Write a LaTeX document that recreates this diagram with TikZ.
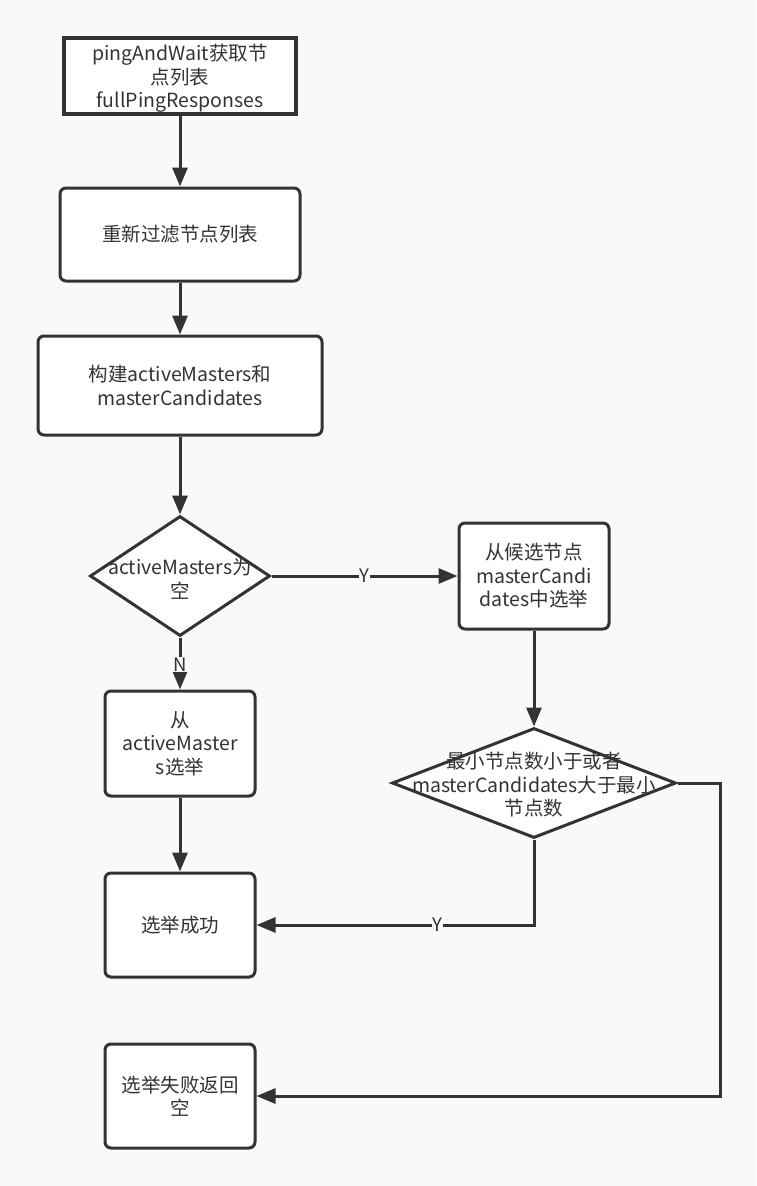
\documentclass[tikz,border=0pt]{standalone}
\usepackage{fontspec}
\setmainfont{Noto Sans CJK SC}
\usetikzlibrary{arrows.meta,shapes.geometric}
\definecolor{bg}{HTML}{F9F9F9}
\definecolor{ink}{HTML}{333333}
\begin{document}
\begin{tikzpicture}[x=1pt,y=-1pt,
  txt/.style={text=ink, align=center, font=\fontsize{19.5}{23.5}\selectfont},
  box/.style={txt, draw=ink, fill=white, line width=3pt, rounded corners=6pt, inner sep=0pt},
  sharpbox/.style={txt, draw=ink, fill=white, line width=4pt, inner sep=0pt},
  dia/.style={draw=ink, fill=white, line width=3pt, diamond, inner sep=0pt},
  conn/.style={draw=ink, line width=3pt, -{Triangle[length=19pt,width=15pt]}},
  elabel/.style={fill=bg, text=ink, inner sep=1pt, font=\fontsize{18.5}{20}\selectfont}
]
\fill[bg] (0,0) rectangle (756,1186);
\useasboundingbox (0,0) rectangle (756,1186);

\node[sharpbox, minimum width=232pt, minimum height=76pt] (b1) at (180,76) {\rule{0pt}{21pt}pingAndWait获取节\\点列表\\fullPingResponses};
\node[box, minimum width=240pt, minimum height=93pt] (b2) at (180,234.5) {重新过滤节点列表};
\node[box, minimum width=284pt, minimum height=99pt] (b3) at (180,385.5) {构建activeMasters和\\masterCandidates};
\node[dia, minimum width=180pt, minimum height=120pt] (d1) at (180,576) {};
\node[txt] (d1t) at (180,579) {activeMasters为\\空};
\node[box, minimum width=150pt, minimum height=106pt] (b5) at (534,576) {从候选节点\\masterCandi\\dates中选举};
\node[box, minimum width=150pt, minimum height=105pt] (b6) at (180,743.5) {从\\activeMaster\\s选举};
\node[dia, minimum width=284pt, minimum height=110pt] (d2) at (534,783) {};
\node[txt] (d2t) at (534,785) {最小节点数小于或者\\masterCandidates大于最小\\节点数};
\node[box, minimum width=150pt, minimum height=104pt] (b8) at (180,925) {选举成功};
\node[box, minimum width=150pt, minimum height=104pt] (b9) at (180,1096) {选举失败返回\\空};
\coordinate (c1) at (720,783);

\draw[conn] (b1.south) -- (b2.north);
\draw[conn] (b2.south) -- (b3.north);
\draw[conn] (b3.south) -- (d1.north);
\draw[conn] (d1.east) -- node[elabel]{Y} (b5.west);
\draw[conn] (d1.south) -- node[elabel, pos=0.52]{N} (b6.north);
\draw[conn] (b5.south) -- (d2.north);
\draw[conn] (b6.south) -- (b8.north);
\draw[conn] (d2.south) |- node[elabel, pos=0.674]{Y} (b8.east);
\draw[conn] (d2.east) -- (c1) |- (b9.east);
\end{tikzpicture}
\end{document}
